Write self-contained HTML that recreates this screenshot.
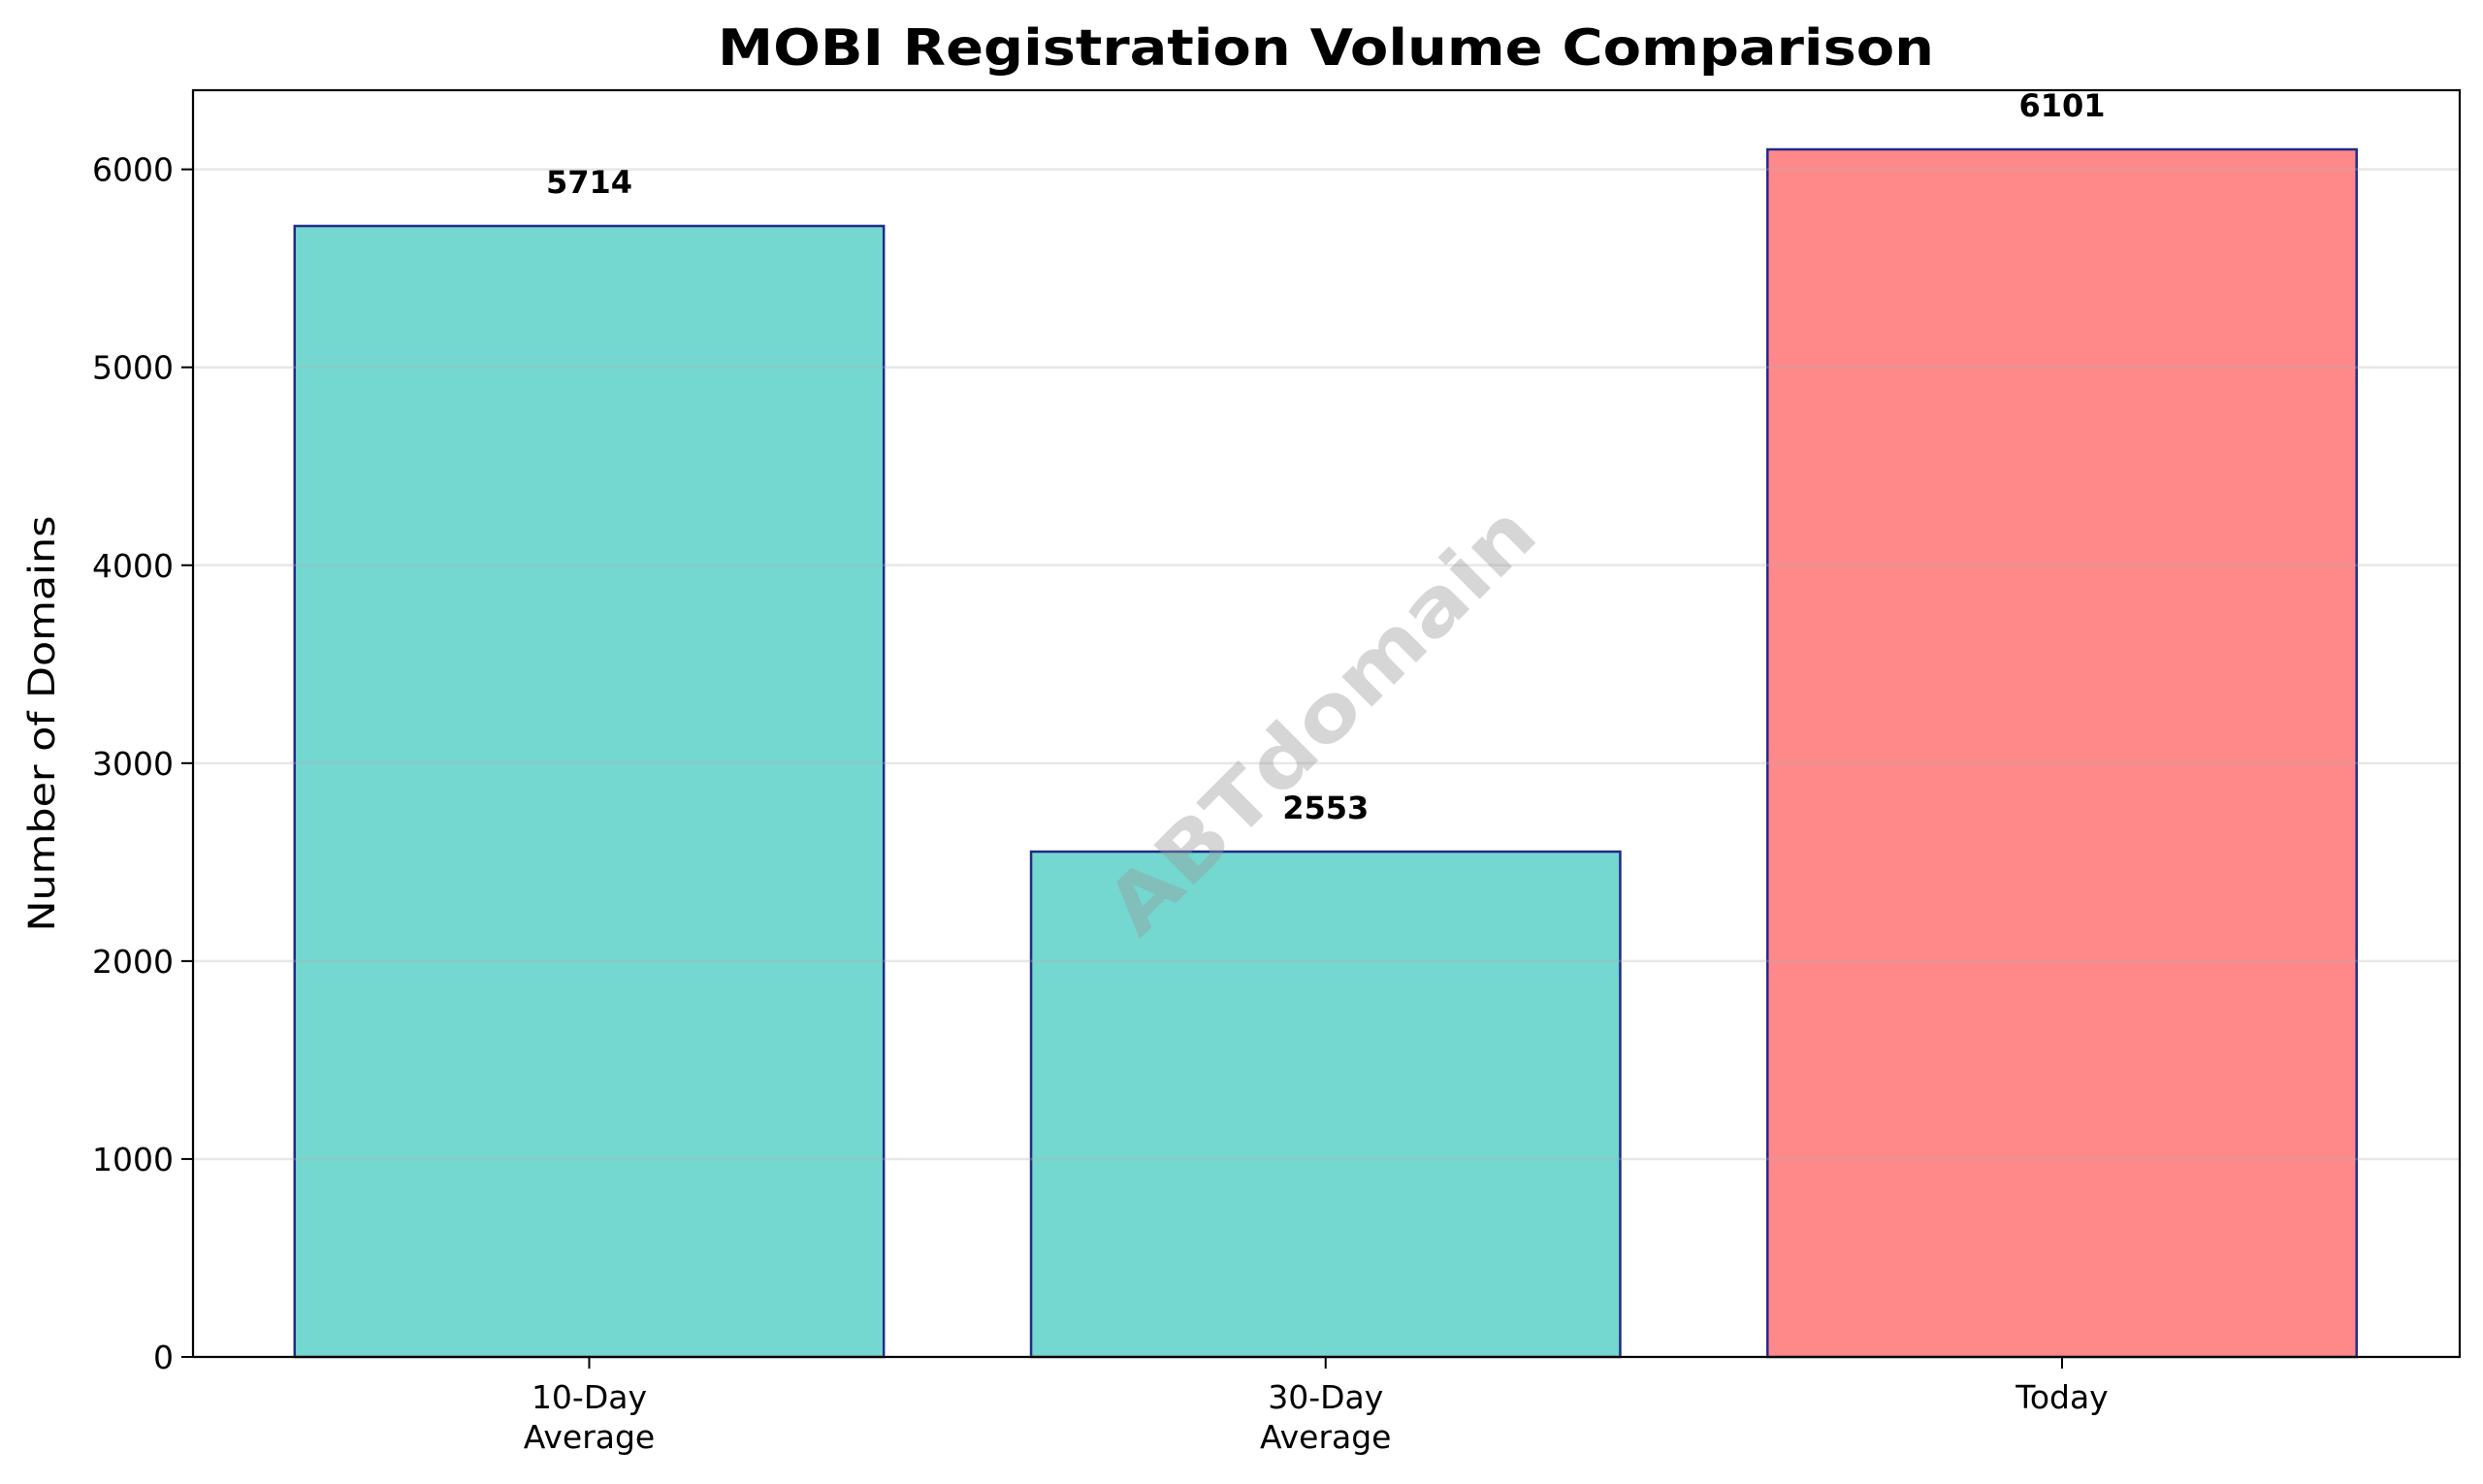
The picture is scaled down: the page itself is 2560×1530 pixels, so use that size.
<!DOCTYPE html>
<html><head><meta charset="utf-8"><style>
body{margin:0;background:#fff}
svg{display:block;font-family:"DejaVu Sans","Liberation Sans",sans-serif}
</style></head><body>
<svg id="chart" width="2560" height="1530" viewBox="0 0 2560 1530" xmlns="http://www.w3.org/2000/svg">
<rect width="2560" height="1530" fill="#fff"/>
<g id="grid"></g><g id="bars"></g><g id="labels"></g>
<text x="1366" y="746" transform="rotate(-45 1366 746)" text-anchor="middle" dominant-baseline="middle" font-size="80" font-weight="bold" fill="#999" fill-opacity="0.4" textLength="585" lengthAdjust="spacingAndGlyphs">ABTdomain</text>
<rect x="199" y="93" width="2337" height="1306" fill="none" stroke="#000" stroke-width="2.2"/>
<g id="axes"></g>
<text x="1367" y="67" text-anchor="middle" font-size="52" font-weight="bold" textLength="1254" lengthAdjust="spacingAndGlyphs">MOBI Registration Volume Comparison</text>
<text transform="translate(56 746) rotate(-90)" text-anchor="middle" font-size="37" textLength="429" lengthAdjust="spacingAndGlyphs">Number of Domains</text>
</svg>
<script>
const categories = [["10-Day","Average"],["30-Day","Average"],["Today"]];
const values = [5714, 2553, 6101];
const barColors = ["#74d7d0","#74d7d0","#ff8989"];
const yTicks = [0,1000,2000,3000,4000,5000,6000];
const NS="http://www.w3.org/2000/svg";
const L=199,R=2536,T=93,B=1399;
const xMin=-0.538,xMax=2.54,yMax=6400;
const xs=v=>L+(v-xMin)/(xMax-xMin)*(R-L);
const ys=v=>B-v/yMax*(B-T);
function mk(tag,attrs,parent,txt){const e=document.createElementNS(NS,tag);for(const k in attrs)e.setAttribute(k,attrs[k]);if(txt!==undefined)e.textContent=txt;parent.appendChild(e);return e;}
const grid=document.getElementById('grid'),bars=document.getElementById('bars'),labels=document.getElementById('labels'),axes=document.getElementById('axes');
yTicks.forEach(t=>{
  const g=mk('line',{x1:L,x2:R,y1:ys(t),y2:ys(t),stroke:'#b0b0b0','stroke-opacity':0.3,'stroke-width':2.5},labels);
  
  
  const tk=mk('line',{x1:L-12,x2:L,y1:ys(t),y2:ys(t),stroke:'#000','stroke-width':2},axes);
  
  
  const tl=mk('text',{x:L-20,y:ys(t)+12,'text-anchor':'end','font-size':33},axes,String(t));
  
  
});
values.forEach((v,i)=>{
  const w=0.8*(R-L)/(xMax-xMin);
  const r=mk('rect',{x:xs(i)-w/2,y:ys(v),width:w,height:B-ys(v),fill:barColors[i],stroke:'#1f2a8a','stroke-width':2.5},bars);
  
  
  const vl=mk('text',{x:xs(i),y:ys(v)-34,'text-anchor':'middle','font-size':32,'font-weight':'bold'},labels,String(v));
  
  
  const tk=mk('line',{x1:xs(i),x2:xs(i),y1:B,y2:B+12,stroke:'#000','stroke-width':2},axes);
  
  
  categories[i].forEach((ln,j)=>{
    const xl=mk('text',{x:xs(i),y:B+53+j*41,'text-anchor':'middle','font-size':33},axes,ln);
    
    
  });
});
</script>
</body></html>
